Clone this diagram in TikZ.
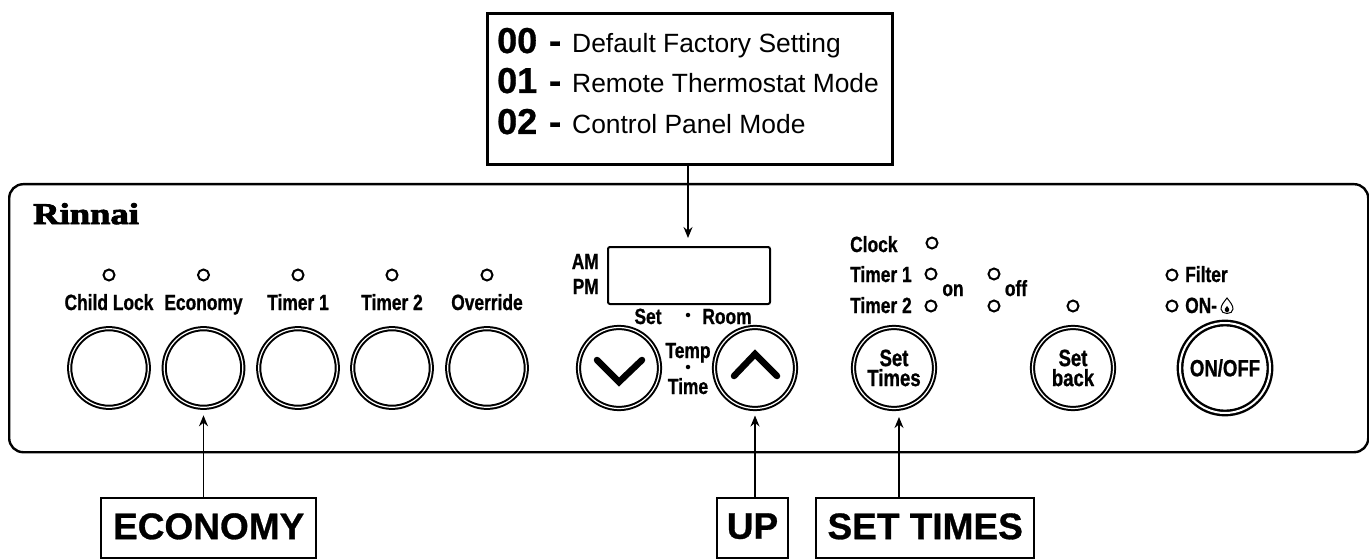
\documentclass[tikz,border=0pt]{standalone}
\usepackage{fontspec}
\setmainfont{Liberation Sans}
\newfontfamily\narrowfont[FakeStretch=0.79,FakeBold=0.9]{Liberation Sans Bold}
\newfontfamily\logofont[FakeStretch=1.22,FakeBold=3]{Liberation Serif Bold}
\newfontfamily\headfont[FakeBold=0.8]{Liberation Sans Bold}
\usetikzlibrary{arrows.meta, positioning}
\definecolor{cink}{HTML}{000000}
\tikzset{
  every node/.style={inner sep=0pt, text=cink},
  ledlamp/.style={circle, draw=cink, line width=2pt, minimum size=11pt},
  keyround/.style={circle, draw=cink, line width=2pt, double, double distance=1.2pt, minimum size=#1, align=center},
  keyround/.default=78.6pt,
  panellabel/.style={font=\narrowfont\fontsize{22}{20}\selectfont, anchor=base},
  keylabel/.style={font=\narrowfont\fontsize{23.5}{20}\selectfont},
  callout/.style={draw=cink, line width=2.4pt, fill=white, font=\headfont\fontsize{37}{40}\selectfont, minimum height=60pt, anchor=north west, text depth=4pt},
  arrow/.style={-{Stealth[length=11pt, width=9pt]}, draw=cink, line width=1.5pt},
  chevron/.style={draw=cink, line width=6.5pt, line cap=round},
  dotmark/.style={circle, fill=cink, minimum size=4.5pt},
}
\begin{document}
\begin{tikzpicture}[x=1pt, y=-1pt]
  \useasboundingbox (0,0) rectangle (1369,559);
  % front panel
  \node[draw=cink, line width=2.4pt, rounded corners=14pt, minimum width=1359pt, minimum height=268pt, anchor=north west] (panel) at (8,183) {};
  \node[font=\logofont\fontsize{30}{30}\selectfont, anchor=base west] (logo) at (33,224) {Rinnai};
  % five plain keys in a row
  \foreach \i/\x/\lab in {0/109/Child Lock, 1/203.5/Economy, 2/298/Timer 1, 3/392/Timer 2, 4/487/Override} {
    \node[ledlamp] (led\i) at (\x,275) {};
    \node[panellabel] (lab\i) at (\x,310) {\lab};
    \node[keyround] (key\i) at (\x,368) {};
  }
  % display
  \node[draw=cink, line width=2pt, rounded corners=2pt, minimum width=162pt, minimum height=57pt, anchor=north west] (display) at (607,246) {};
  \node[panellabel, anchor=base east] (am) at (599,269) {AM};
  \node[panellabel, anchor=base east] (pm) at (599,294) {PM};
  \node[panellabel] (setlab) at (648,324) {Set};
  \node[dotmark] (dotup) at (688,315) {};
  \node[panellabel] (room) at (727,324) {Room};
  \node[keyround=81pt] (down) at (619,368) {};
  \node[keyround=81pt] (up) at (755,368) {};
  \draw[chevron] (597,360) -- (619,382) -- (642,360);
  \draw[chevron] (734,376) -- (755,354) -- (777,376);
  \node[panellabel] (temp) at (688,358) {Temp};
  \node[dotmark] (dotlow) at (688,367) {};
  \node[panellabel] (time) at (688,394) {Time};
  % timers
  \foreach \n/\y/\b/\lab/\lx in {clock/243/252/Clock/932, one/274/282/Timer 1/931, two/306/313/Timer 2/931} {
    \node[panellabel, anchor=base west] (lab\n) at (850,\b) {\lab};
    \node[ledlamp] (led\n) at (\lx,\y) {};
  }
  \node[panellabel] (on) at (953,296) {on};
  \node[ledlamp] (ledoffa) at (994,274) {};
  \node[ledlamp] (ledoffb) at (994,306) {};
  \node[panellabel] (off) at (1016,296) {off};
  \node[keyround=81pt, keylabel] (settimes) at (894,368) {Set\\Times};
  \node[ledlamp] (ledback) at (1073,306) {};
  \node[keyround=81pt, keylabel] (setback) at (1073,368) {Set\\back};
  % on/off
  \node[ledlamp] (ledfilter) at (1172,275) {};
  \node[panellabel, anchor=base west] (filter) at (1185,282) {Filter};
  \node[ledlamp] (ledon) at (1172,306) {};
  \node[panellabel, anchor=base west] (onlab) at (1185,313) {ON-};
  \draw[cink, line width=1pt] (1227,298) .. controls (1224,302) and (1221,305) .. (1221,309) .. controls (1221,315) and (1233,315) .. (1233,309) .. controls (1233,305) and (1230,302) .. (1227,298) -- cycle;
  \fill[cink] (1227,306) .. controls (1225,308) and (1224,310) .. (1225,311) .. controls (1226,313) and (1228,313) .. (1229,311) .. controls (1230,310) and (1229,308) .. (1227,306) -- cycle;
  \node[keyround=90pt, keylabel, line width=2.4pt, double distance=2pt] (onoff) at (1225,368) {ON/OFF};
  % callouts
  \node[draw=cink, line width=2.6pt, fill=white, minimum width=405pt, minimum height=151pt, anchor=north west] (modes) at (486,12) {};
  \foreach \n/\y/\num/\txt in {a/53/00/Default Factory Setting, b/93/01/Remote Thermostat Mode, c/134/02/Control Panel Mode} {
    \node[font=\headfont\fontsize{36}{36}\selectfont, anchor=base west] (num\n) at (497,\y) {\num};
    \node[font=\headfont\fontsize{36}{36}\selectfont, anchor=base west] (dash\n) at (549,\y) {-};
    \node[font=\fontsize{26.4}{26}\selectfont, anchor=base west] (txt\n) at (572,\y) {\txt};
  }
  \coordinate (dispin) at (688,246);
  \draw[arrow, shorten >=8pt] (modes.south -| dispin) -- (dispin);
  \node[callout, minimum width=215pt] (economy) at (100,497) {ECONOMY};
  \node[callout, line width=2pt, minimum width=71pt] (uplab) at (716,497) {UP};
  \node[callout, minimum width=218pt] (times) at (815,497) {SET TIMES};
  \draw[arrow, shorten >=7pt] (economy.north -| key1) -- (key1.south);
  \draw[arrow, shorten >=6pt] (uplab.north -| up) -- (up.south);
  \coordinate (timesin) at (899,411);
  \draw[arrow, shorten >=6pt] (times.north -| timesin) -- (timesin);
\end{tikzpicture}
\end{document}
